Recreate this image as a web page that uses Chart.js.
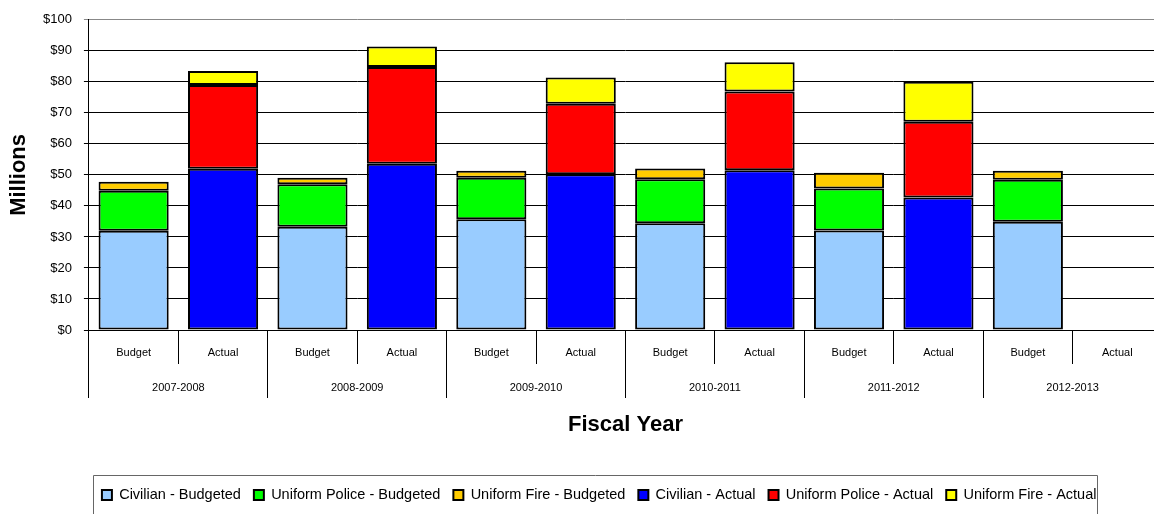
<!DOCTYPE html>
<html>
<head>
<meta charset="utf-8">
<script src="https://cdn.jsdelivr.net/npm/chart.js@4.4.0/dist/chart.umd.min.js"></script>
<style>
html, body { margin: 0; padding: 0; overflow: hidden; background: #fff; }
#wrap { position: relative; width: 1164px; height: 524px; }
</style>
</head>
<body>
<div id="wrap"><canvas id="c"></canvas></div>
<script>
const fiscalYears = ['2007-2008', '2008-2009', '2009-2010', '2010-2011', '2011-2012', '2012-2013'];
const phases = ['Budget', 'Actual'];
const yTicks = [0, 10, 20, 30, 40, 50, 60, 70, 80, 90, 100];

const civilianBudgeted = [32.0, 33.3, 35.7, 34.4, 32.1, 34.9];
const policeBudgeted   = [12.9, 13.7, 13.4, 14.2, 13.5, 13.5];
const fireBudgeted     = [2.9, 2.1, 2.2, 3.5, 5.1, 2.9];
const civilianActual   = [52.0, 53.6, 50.2, 51.5, 42.7, null];
const policeActual     = [27.0, 31.2, 22.7, 25.4, 24.4, null];
const fireActual       = [4.5, 6.6, 8.5, 9.4, 12.9, null];

const categories = fiscalYears.flatMap(() => phases);
const asBudget = arr => arr.flatMap(v => [v, null]);
const asActual = arr => arr.flatMap(v => [null, v]);

Chart.defaults.font.family = '"Liberation Sans", Arial, sans-serif';
Chart.defaults.color = '#000';

function ds(label, data, color) {
  return {
    label, data, backgroundColor: color, borderColor: '#000', borderWidth: 2,
    borderSkipped: false, stack: 'all', categoryPercentage: 1.0, barPercentage: 0.784
  };
}

const legendFrame = {
  id: 'legendFrame',
  afterDraw(chart) {
    const lg = chart.legend;
    if (!lg || !lg.legendHitBoxes || !lg.legendHitBoxes.length) return;
    const hb = lg.legendHitBoxes;
    const f = hb[0], l = hb[hb.length - 1];
    const cy = f.top + f.height / 2;
    const ctx = chart.ctx;
    ctx.save();
    ctx.strokeStyle = '#666';
    ctx.lineWidth = 1;
    const x0 = Math.round(f.left - 9) + 0.5;
    const x1 = Math.round(l.left + l.width + 1) + 0.5;
    const y0 = Math.round(cy - 20) + 0.5;
    ctx.beginPath();
    ctx.moveTo(x0, chart.height + 2);
    ctx.lineTo(x0, y0);
    ctx.lineTo(x1, y0);
    ctx.lineTo(x1, chart.height + 2);
    ctx.stroke();
    ctx.restore();
  }
};

new Chart(document.getElementById('c'), {
  type: 'bar',
  data: {
    labels: categories,
    datasets: [
      ds('Civilian - Budgeted', asBudget(civilianBudgeted), '#99CCFF'),
      ds('Uniform Police - Budgeted', asBudget(policeBudgeted), '#00FF00'),
      ds('Uniform Fire - Budgeted', asBudget(fireBudgeted), '#FFCC00'),
      ds('Civilian - Actual', asActual(civilianActual), '#0000FF'),
      ds('Uniform Police - Actual', asActual(policeActual), '#FF0000'),
      ds('Uniform Fire - Actual', asActual(fireActual), '#FFFF00')
    ]
  },
  options: {
    responsive: true,
    maintainAspectRatio: false,
    animation: false,
    devicePixelRatio: 1,
    layout: { padding: { left: 1, top: 16, right: 2, bottom: 11.75 } },
    plugins: {
      tooltip: { enabled: false },
      legend: {
        position: 'bottom',
        fullSize: false,
        align: 'start',
        labels: { boxWidth: 10, boxHeight: 10, padding: 13, font: { size: 14.5 }, color: '#000' }
      }
    },
    scales: {
      x: {
        stacked: true,
        offset: true,
        position: { y: 0 },
        grid: { offset: true, drawOnChartArea: false, drawTicks: true, tickLength: 33, color: '#000', lineWidth: 1 },
        border: { display: true, color: '#000', width: 1 },
        ticks: { padding: -16.6, font: { size: 11 }, color: '#000', maxRotation: 0, autoSkip: false }
      },
      x2: {
        type: 'category',
        labels: fiscalYears,
        position: 'bottom',
        offset: true,
        weight: 1,
        grid: { offset: true, drawOnChartArea: false, drawTicks: true, tickLength: 68, color: '#000', lineWidth: 1 },
        border: { display: false },
        ticks: { padding: -16.6, font: { size: 11 }, color: '#000', maxRotation: 0, autoSkip: false },
        title: { display: true, text: 'Fiscal Year', color: '#000', font: { size: 22, weight: 'bold' }, padding: { top: 33.8, bottom: 36.55 } }
      },
      y: {
        stacked: true,
        min: 0,
        max: 100,
        weight: 0,
        afterBuildTicks: s => { s.ticks = yTicks.map(v => ({ value: v })); },
        grid: { color: c => (c.tick && c.tick.value === 100) ? '#888' : '#000', tickLength: 5, lineWidth: 1 },
        border: { display: true, color: '#000', width: 1 },
        ticks: { padding: 12, font: { size: 13 }, color: '#000', callback: v => '$' + v },
        title: { display: true, text: 'Millions', color: '#000', font: { size: 22, weight: 'bold' }, padding: { top: 4.8, bottom: -1.2 } }
      }
    }
  },
  plugins: [legendFrame]
});
</script>
</body>
</html>
